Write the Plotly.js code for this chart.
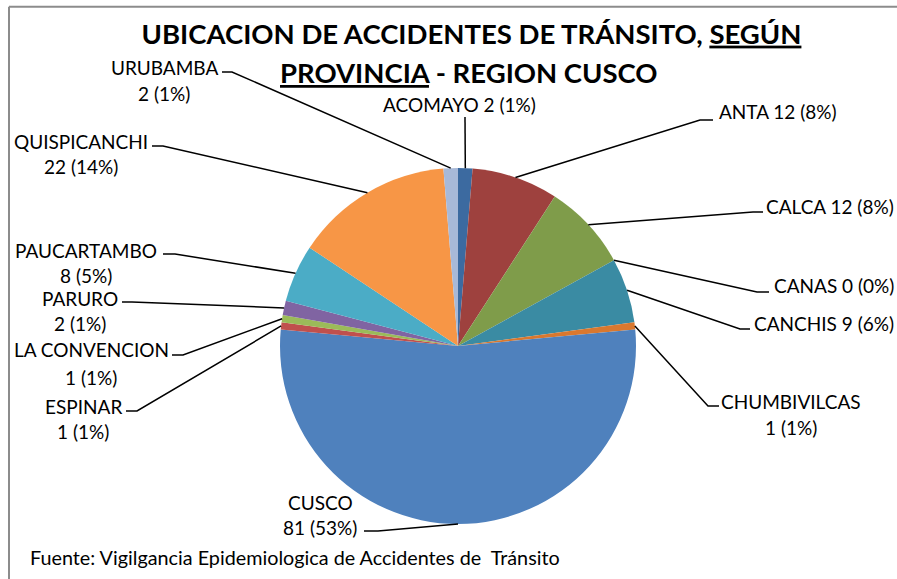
<!DOCTYPE html>
<html>
<head>
<meta charset="utf-8">
<script src="https://cdn.plot.ly/plotly-3.0.1.min.js"></script>
<style>
  body { margin: 0; background: #fff; }
  #chart { width: 897px; height: 579px; }
</style>
</head>
<body>
<div id="chart"></div>
<script>
const W = 897
const H = 579

// data
const provincias = ['ACOMAYO', 'ANTA', 'CALCA', 'CANAS', 'CANCHIS', 'CHUMBIVILCAS', 'CUSCO',
  'ESPINAR', 'LA CONVENCION', 'PARURO', 'PAUCARTAMBO', 'QUISPICANCHI', 'URUBAMBA']
const accidentes = [2, 12, 12, 0, 9, 1, 81, 1, 1, 2, 8, 22, 2]
const twoLines = [false, false, false, false, false, true, true, true, true, true, true, true, true]

const colores = ['#3C6AA0', '#9E413E', '#7F9C4A', '#71588F', '#3A8BA3', '#D9782F', '#4F81BD',
  '#C0504D', '#9BBB59', '#8064A2', '#4BACC6', '#F79646', '#A8B9D8']

// label placement (pixels): text x, caps-centre y of each line, anchor, leader start, leader elbow
const labelPos = [
  { x: 460, y: [104], anchor: 'center', s: [465, 117], e: [465, 117] },
  { x: 717, y: [111], anchor: 'left', s: [713, 120], e: [700, 120] },
  { x: 896, y: [205], anchor: 'right', s: [763, 212], e: [753, 212] },
  { x: 896, y: [284], anchor: 'right', s: [769, 292], e: [757, 292] },
  { x: 896, y: [322], anchor: 'right', s: [750, 329], e: [740, 329] },
  { x: 791, y: [400, 426], anchor: 'center', s: [719, 406], e: [708, 406] },
  { x: 320, y: [501, 526], anchor: 'center', s: [364, 531], e: [378, 531] },
  { x: 83, y: [405, 430], anchor: 'center', s: [126, 411], e: [137, 411] },
  { x: 91, y: [348, 376], anchor: 'center', s: [172, 355], e: [183, 355] },
  { x: 80, y: [297, 322], anchor: 'center', s: [122, 302], e: [132, 302] },
  { x: 86, y: [249, 275], anchor: 'center', s: [163, 254], e: [175, 254] },
  { x: 81, y: [140, 165], anchor: 'center', s: [152, 146], e: [163, 146] },
  { x: 164, y: [66, 93], anchor: 'center', s: [222, 72], e: [232, 72] }
]

// pie box in pixels
const pie = { cx: 458, cy: 346, r: 178 }

const px = (x) => x / W
const py = (y) => 1 - y / H

const total = accidentes.reduce((a, b) => a + b, 0)

// mid angle of each slice, clockwise from 12 o'clock
const midAngles = (() => {
  let acc = 0
  return accidentes.map(v => {
    const a = (acc + v / 2) / total * 2 * Math.PI
    acc += v
    return a
  })
})()

const shapes = []
const annotations = []
const labelFont = { family: 'Lato, sans-serif', size: 19, color: '#000' }

provincias.forEach((name, i) => {
  const pct = Math.round(accidentes[i] / total * 100)
  const valueText = accidentes[i] + ' (' + pct + '%)'
  const lines = twoLines[i] ? [name, valueText] : [name + ' ' + valueText]
  const lp = labelPos[i]
  lines.forEach((t, k) => {
    annotations.push({
      text: t,
      x: px(lp.x), y: py(lp.y[k] + 1),
      xref: 'paper', yref: 'paper',
      xanchor: lp.anchor, yanchor: 'middle',
      showarrow: false,
      font: labelFont
    })
  })
  const a = midAngles[i]
  const edgeX = pie.cx + pie.r * Math.sin(a)
  const edgeY = pie.cy - pie.r * Math.cos(a)
  shapes.push({
    type: 'path',
    xref: 'paper', yref: 'paper',
    path: 'M ' + px(lp.s[0]) + ',' + py(lp.s[1]) +
      ' L ' + px(lp.e[0]) + ',' + py(lp.e[1]) +
      ' L ' + px(edgeX) + ',' + py(edgeY),
    line: { color: '#000', width: 1.5 }
  })
})

// chart frame (only the top and left edges are inside the picture)
shapes.push({ type: 'line', xref: 'paper', yref: 'paper', x0: px(9), x1: 1, y0: py(6.7), y1: py(6.7), line: { color: '#8c8c8c', width: 2 } })
shapes.push({ type: 'line', xref: 'paper', yref: 'paper', x0: px(9), x1: px(9), y0: py(6.7), y1: 0, line: { color: '#8c8c8c', width: 2 } })

// second title line
annotations.push({
  text: '<u>PROVINCIA</u> - REGION CUSCO',
  x: px(469), y: py(73),
  xref: 'paper', yref: 'paper',
  xanchor: 'center', yanchor: 'middle',
  showarrow: false,
  font: { family: 'Lato, sans-serif', size: 27.5, color: '#000', weight: 'bold' }
})

annotations.push({
  text: 'Fuente: Vigilgancia Epidemiologica de Accidentes de \u00a0Tránsito',
  x: px(28), y: py(557),
  xref: 'paper', yref: 'paper',
  xanchor: 'left', yanchor: 'middle',
  showarrow: false,
  font: { family: 'Lato, sans-serif', size: 19.8, color: '#000' }
})

const data = [{
  type: 'pie',
  labels: provincias,
  values: accidentes,
  sort: false,
  direction: 'clockwise',
  rotation: 0,
  textinfo: 'none',
  hoverinfo: 'label+value+percent',
  marker: { colors: colores, line: { color: '#fff', width: 0 } },
  domain: { x: [px(pie.cx - pie.r), px(pie.cx + pie.r)], y: [py(pie.cy + pie.r), py(pie.cy - pie.r)] }
}]

const layout = {
  width: W,
  height: H,
  margin: { l: 0, r: 0, t: 0, b: 0 },
  paper_bgcolor: '#fff',
  showlegend: false,
  title: {
    text: 'UBICACION DE ACCIDENTES DE TRÁNSITO, <u>SEGÚN</u>',
    font: { family: 'Lato, sans-serif', size: 27.5, color: '#000', weight: 'bold' },
    x: px(471.5), xanchor: 'center',
    y: py(34), yanchor: 'middle',
    yref: 'container'
  },
  shapes: shapes,
  annotations: annotations
}

Plotly.newPlot('chart', data, layout, { displayModeBar: false, responsive: false })
</script>
</body>
</html>
